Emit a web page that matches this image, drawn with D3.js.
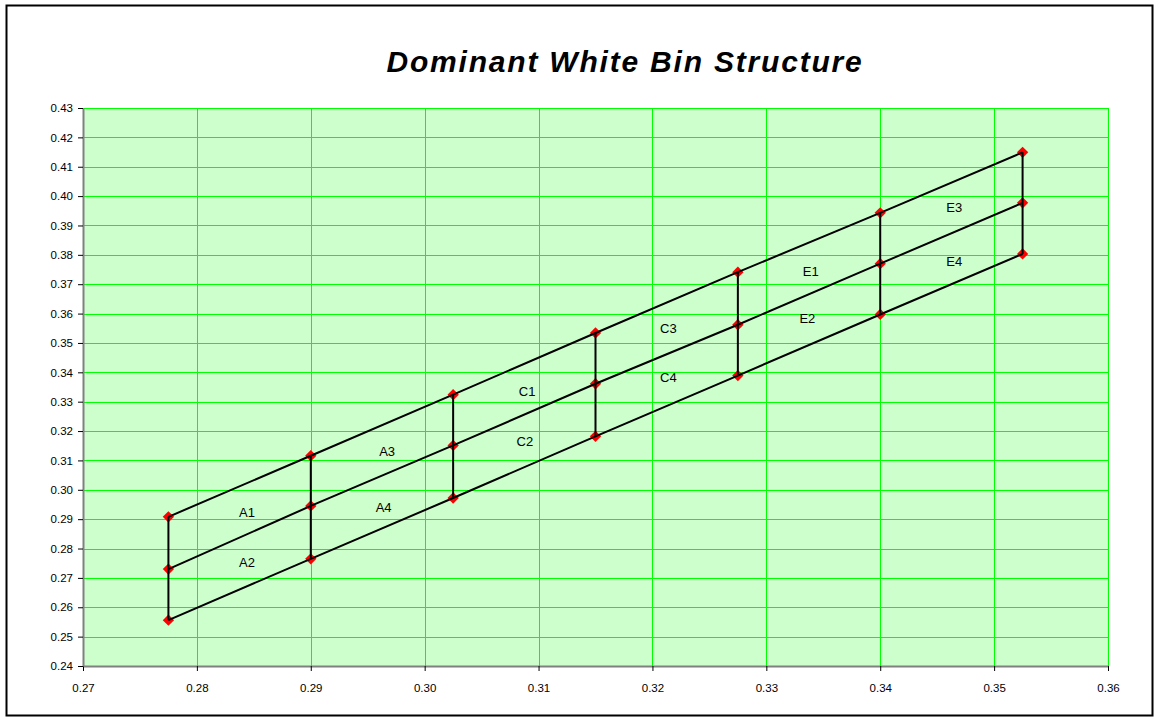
<!DOCTYPE html>
<html>
<head>
<meta charset="utf-8">
<script src="https://cdn.jsdelivr.net/npm/d3@7"></script>
<style>
  body { margin: 0; background: #fff; }
  svg text { font-family: Arial, "Liberation Sans", sans-serif; }
</style>
</head>
<body>
<div id="chart"></div>
<script>
// Bin corner x positions (CIE x)
const xBins = [0.2775, 0.29, 0.3025, 0.315, 0.3275, 0.34, 0.3525];
// Upper, middle and lower boundary y values at each x
const topY = [0.2908, 0.3116, 0.3324, 0.3534, 0.3741, 0.3943, 0.4149];
const midY = [0.2730, 0.2945, 0.3151, 0.3361, 0.3562, 0.3770, 0.3977];
const botY = [0.2556, 0.2765, 0.2972, 0.3182, 0.3389, 0.3597, 0.3803];

// Bin names and where they sit
const binNames = ["A1", "A2", "A3", "A4", "C1", "C2", "C3", "C4", "E1", "E2", "E3", "E4"];
const binX = [0.2844, 0.2844, 0.2967, 0.2964, 0.3090, 0.3088, 0.3214, 0.3214, 0.3339, 0.3336, 0.3465, 0.3465];
const binY = [0.2924, 0.2754, 0.3129, 0.2941, 0.3336, 0.3166, 0.3551, 0.3381, 0.3745, 0.3582, 0.3960, 0.3776];

const xTicks = [0.27, 0.28, 0.29, 0.30, 0.31, 0.32, 0.33, 0.34, 0.35, 0.36];
const yTicks = d3.range(20).map((i) => +(0.24 + i * 0.01).toFixed(2));

const W = 1159, H = 721;
const margin = { top: 108, right: 51, bottom: 55, left: 83 };
const width = 1108 - margin.left;
const height = 666 - margin.top;

const svg = d3.select("#chart").append("svg")
  .attr("width", W)
  .attr("height", H);

// Chart area border
svg.append("rect")
  .attr("x", 6.5).attr("y", 5.5)
  .attr("width", 1146).attr("height", 710)
  .attr("fill", "#fff")
  .attr("stroke", "#000")
  .attr("stroke-width", 2);

// Title
svg.append("text")
  .attr("x", 625)
  .attr("y", 72)
  .attr("text-anchor", "middle")
  .style("font-size", "30px")
  .style("font-weight", "bold")
  .style("font-style", "italic")
  .style("letter-spacing", "1.8px")
  .text("Dominant White Bin Structure");

const g = svg.append("g")
  .attr("transform", "translate(" + margin.left + "," + margin.top + ")");

const x = d3.scaleLinear().domain([0.27, 0.36]).range([0, width]);
const y = d3.scaleLinear().domain([0.24, 0.43]).range([height, 0]);

// Plot area background
g.append("rect")
  .attr("width", width)
  .attr("height", height)
  .attr("fill", "#CCFFCC");

// Gridlines
g.append("g").selectAll("line")
  .data(yTicks.slice(1))
  .join("line")
  .attr("x1", 0).attr("x2", width)
  .attr("y1", (d) => Math.round(y(d)) + 0.5)
  .attr("y2", (d) => Math.round(y(d)) + 0.5)
  .attr("stroke", "#00FF00")
  .attr("stroke-width", 1);

g.append("g").selectAll("line")
  .data(xTicks.slice(1))
  .join("line")
  .attr("y1", 0).attr("y2", height)
  .attr("x1", (d) => Math.round(x(d)) + 0.5)
  .attr("x2", (d) => Math.round(x(d)) + 0.5)
  .attr("stroke", "#00FF00")
  .attr("stroke-width", 1);

// Axes
const xAxis = g.append("g")
  .attr("transform", "translate(0," + height + ")")
  .call(d3.axisBottom(x).tickValues(xTicks).tickFormat(d3.format(".2f")).tickSizeOuter(0).tickSizeInner(5).tickPadding(13));

const yAxis = g.append("g")
  .call(d3.axisLeft(y).tickValues(yTicks).tickFormat(d3.format(".2f")).tickSizeOuter(0).tickSizeInner(5).tickPadding(5));

[xAxis, yAxis].forEach((ax) => {
  ax.select(".domain").attr("stroke", "#808080").attr("stroke-width", 2);
  ax.selectAll(".tick line").attr("stroke", "#000");
  ax.selectAll(".tick text")
    .attr("fill", "#000")
    .style("font-size", "11.5px")
    .style("font-family", "Arial, 'Liberation Sans', sans-serif");
});

// Markers (red diamonds)
const diamond = d3.symbol().type(d3.symbolSquare).size(64);
const allPoints = [];
xBins.forEach((xv, i) => {
  allPoints.push([xv, topY[i]], [xv, midY[i]], [xv, botY[i]]);
});

g.append("g").selectAll("path")
  .data(allPoints)
  .join("path")
  .attr("d", diamond)
  .attr("transform", (d) => "translate(" + x(d[0]) + "," + y(d[1]) + ") rotate(45)")
  .attr("fill", "#FF0000");

// Boundary lines
const line = d3.line().x((d) => x(d[0])).y((d) => y(d[1]));
const lines = g.append("g")
  .attr("fill", "none")
  .attr("stroke", "#000")
  .attr("stroke-width", 2);

[topY, midY, botY].forEach((ys) => {
  lines.append("path").attr("d", line(xBins.map((xv, i) => [xv, ys[i]])));
});

xBins.forEach((xv, i) => {
  lines.append("path").attr("d", line([[xv, topY[i]], [xv, botY[i]]]));
});

// Bin labels
g.append("g").selectAll("text")
  .data(binNames)
  .join("text")
  .attr("x", (d, i) => x(binX[i]))
  .attr("y", (d, i) => y(binY[i]))
  .attr("dy", "0.35em")
  .attr("text-anchor", "middle")
  .style("font-size", "13px")
  .attr("fill", "#000")
  .text((d) => d);
</script>
</body>
</html>
